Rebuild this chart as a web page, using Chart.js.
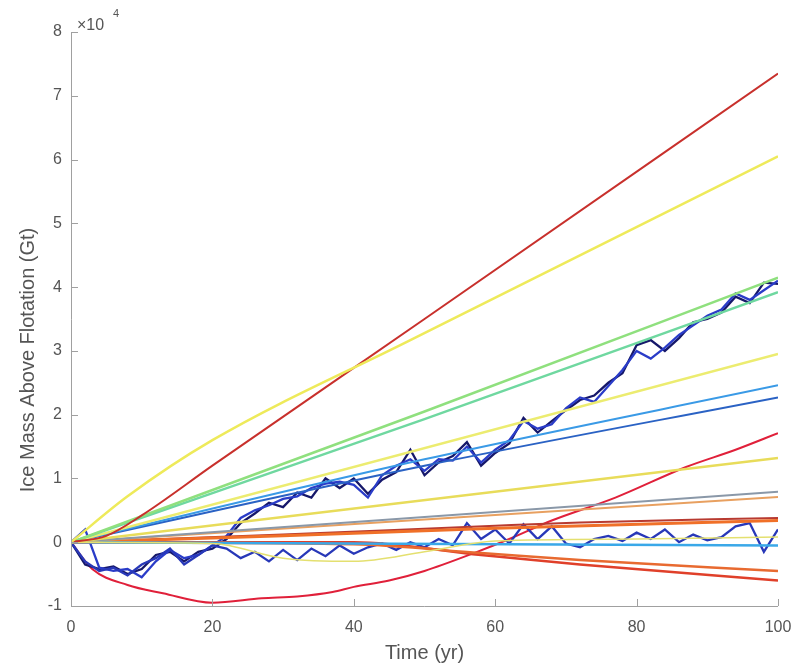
<!DOCTYPE html>
<html>
<head>
<meta charset="utf-8">
<script src="https://cdn.jsdelivr.net/npm/chart.js@4"></script>
<style>
  html, body { margin:0; padding:0; background:#fff; }
  #wrap { width:799px; height:667px; }
</style>
</head>
<body>
<div id="wrap"><canvas id="c" width="799" height="667"></canvas></div>
<script>
// ice mass above flotation, values in units of 1e4 Gt

// x ticks / y ticks
const xTicks = [0, 20, 40, 60, 80, 100];
const yTicks = [-1, 0, 1, 2, 3, 4, 5, 6, 7, 8];

// noisy model runs, every 2 years
const noisyYears = [0,2,4,6,8,10,12,14,16,18,20,22,24,26,28,30,32,34,36,38,40,42,44,46,48,50,
  52,54,56,58,60,62,64,66,68,70,72,74,76,78,80,82,84,86,88,90,92,94,96,98,100];
const runA = [0,-0.35,-0.42,-0.38,-0.5,-0.42,-0.2,-0.15,-0.3,-0.15,-0.1,0.05,0.3,0.45,0.62,0.55,0.78,0.7,1.0,0.85,1.0,
  0.76,0.98,1.1,1.45,1.05,1.25,1.35,1.57,1.2,1.4,1.55,1.95,1.72,1.9,2.07,2.23,2.3,2.5,2.65,3.09,3.17,3.0,3.2,3.45,3.5,3.6,3.85,3.75,4.07,4.05];
const runA2 = [0,0.2,-0.4,-0.45,-0.42,-0.55,-0.3,-0.12,-0.25,-0.2,-0.05,0.1,0.38,0.5,0.58,0.68,0.72,0.85,0.92,0.95,0.9,
  0.7,1.05,1.2,1.3,1.12,1.3,1.28,1.5,1.25,1.45,1.6,1.9,1.78,1.85,2.1,2.27,2.2,2.45,2.7,3.0,2.88,3.05,3.25,3.4,3.55,3.65,3.9,3.8,3.95,4.1];
const runB = [0,-0.3,-0.45,-0.4,-0.52,-0.35,-0.25,-0.1,-0.35,-0.2,-0.05,-0.1,-0.25,-0.15,-0.3,-0.12,-0.28,-0.1,-0.22,-0.05,-0.18,
  -0.08,-0.02,-0.12,0.0,-0.08,0.05,-0.05,0.3,0.05,0.2,-0.02,0.28,0.05,0.25,-0.02,-0.08,0.05,0.1,0.02,0.15,0.05,0.2,0.0,0.12,0.03,0.08,0.25,0.3,-0.15,0.2];

// smooth runs: knot years and values
const redTopX = [0, 5, 10, 20, 50, 100];
const redTopY = [0, 0.1, 0.42, 1.2, 3.5, 7.35];
const yellowTopX = [0, 8, 20, 48, 100];
const yellowTopY = [0, 0.72, 1.6, 3.17, 6.05];
const greenAX = [0, 50, 100];
const greenAY = [0, 2.05, 4.15];
const greenBX = [0, 50, 100];
const greenBY = [0, 1.93, 3.92];
const yellowMidX = [0, 100];
const yellowMidY = [0, 2.95];
const blueAX = [0, 50, 100];
const blueAY = [0, 1.3, 2.46];
const blueBX = [0, 50, 100];
const blueBY = [0, 1.2, 2.27];
const redCurveX = [0, 3, 8, 13, 20, 27, 32, 37, 40, 45, 50, 57, 62, 68, 77, 87, 94, 100];
const redCurveY = [0, -0.42, -0.67, -0.8, -0.95, -0.88, -0.85, -0.78, -0.7, -0.6, -0.45, -0.17, 0.05, 0.34, 0.7, 1.18, 1.45, 1.71];
const yellowLowX = [0, 100];
const yellowLowY = [0, 1.32];
const greyX = [0, 100];
const greyY = [0, 0.79];
const tanX = [0, 100];
const tanY = [0, 0.71];
const darkRedX = [0, 30, 60, 72, 100];
const darkRedY = [0, 0.12, 0.26, 0.31, 0.38];
const orangeUpX = [0, 30, 60, 100];
const orangeUpY = [0, 0.1, 0.22, 0.34];
const cyanX = [0, 100];
const cyanY = [0, -0.05];
const yellowDipX = [0, 20, 30, 40, 50, 60, 80, 100];
const yellowDipY = [0, -0.02, -0.25, -0.3, -0.15, 0.02, 0.05, 0.08];
const orangeDownAX = [0, 40, 58, 72, 100];
const orangeDownAY = [0, -0.03, -0.17, -0.28, -0.45];
const orangeDownBX = [0, 40, 58, 72, 100];
const orangeDownBY = [0, 0.0, -0.2, -0.35, -0.6];

const FONT = '"Liberation Sans", Arial, sans-serif';

function pts(xs, ys){ return xs.map((x,i) => ({x, y: ys[i]})); }

function smooth(xs, ys, color, w){
  return { data: pts(xs, ys), borderColor: color, borderWidth: w || 2, pointRadius: 0,
           cubicInterpolationMode: 'monotone', fill: false };
}
function noisy(xs, ys, color, w){
  return { data: pts(xs, ys), borderColor: color, borderWidth: w || 2, pointRadius: 0,
           tension: 0, fill: false };
}

const datasets = [
  smooth(yellowTopX, yellowTopY, '#eeea5a', 2.5),
  smooth(redTopX, redTopY, '#c8302c'),
  smooth(greenAX, greenAY, '#8fe07e', 2.5),
  smooth(greenBX, greenBY, '#6fd8a0', 2.5),
  smooth(yellowMidX, yellowMidY, '#ecec70', 2.5),
  smooth(yellowLowX, yellowLowY, '#e8dc5a', 2.5),
  smooth(yellowDipX, yellowDipY, '#e4e070', 1.5),
  smooth(blueAX, blueAY, '#3a9ae6'),
  smooth(blueBX, blueBY, '#2a62c4'),
  smooth(greyX, greyY, '#8a98a8'),
  smooth(tanX, tanY, '#e8a060'),
  smooth(cyanX, cyanY, '#3aa8e8', 2.5),
  smooth(orangeUpX, orangeUpY, '#f07028', 3),
  smooth(darkRedX, darkRedY, '#b83a30'),
  smooth(orangeDownAX, orangeDownAY, '#e86a30', 2.5),
  smooth(orangeDownBX, orangeDownBY, '#e0402a', 2.5),
  noisy(noisyYears, runB, '#2838b8', 2.3),
  noisy(noisyYears, runA2, '#2a3cc8', 2.3),
  noisy(noisyYears, runA, '#16186a', 2.3),
  smooth(redCurveX, redCurveY, '#e0203a')
];

// inward MATLAB-like tick marks, exponent label, y label
const axisDecor = {
  id: 'axisDecor',
  afterDraw(chart){
    const ctx = chart.ctx, xs = chart.scales.x, ys = chart.scales.y;
    const a = chart.chartArea;
    ctx.save();
    ctx.strokeStyle = '#a0a0a0';
    ctx.lineWidth = 1;
    ctx.beginPath();
    ctx.moveTo(a.left + 0.5, a.top); ctx.lineTo(a.left + 0.5, a.bottom + 0.5);
    ctx.lineTo(a.right, a.bottom + 0.5);
    xTicks.forEach(t => { const p = Math.round(xs.getPixelForValue(t)) + 0.5; ctx.moveTo(p, a.bottom); ctx.lineTo(p, a.bottom - 7); });
    yTicks.forEach(t => { const p = Math.round(ys.getPixelForValue(t)) + 0.5; ctx.moveTo(a.left, p); ctx.lineTo(a.left + 7, p); });
    ctx.stroke();
    ctx.fillStyle = '#555';
    ctx.textBaseline = 'alphabetic';
    ctx.font = '16px ' + FONT;
    ctx.fillText('\u00d710', a.left + 6, a.top - 2);
    ctx.font = '11px ' + FONT;
    ctx.fillText('4', a.left + 42, a.top - 15);
    // y axis label
    ctx.translate(28, 360);
    ctx.rotate(-Math.PI / 2);
    ctx.textAlign = 'center';
    ctx.textBaseline = 'middle';
    ctx.font = '20px ' + FONT;
    ctx.fillText('Ice Mass Above Flotation (Gt)', 0, 0);
    ctx.restore();
  }
};

new Chart(document.getElementById('c'), {
  type: 'line',
  data: { datasets },
  options: {
    responsive: false,
    animation: false,
    layout: { padding: { top: 32, right: 21, left: 0, bottom: 0 } },
    plugins: { legend: { display: false }, tooltip: { enabled: false } },
    scales: {
      x: {
        type: 'linear', min: 0, max: 100,
        afterBuildTicks: s => { s.ticks = xTicks.map(v => ({ value: v })); },
        afterFit: s => { s.height = 61; s.paddingLeft = 0; s.paddingRight = 0; },
        grid: { display: false, drawTicks: false },
        border: { display: false },
        ticks: { color: '#555', padding: 12, maxRotation: 0, font: { size: 16, family: FONT } },
        title: { display: true, text: 'Time (yr)', color: '#555', padding: { top: 0, bottom: 2 }, font: { size: 20, family: FONT } }
      },
      y: {
        type: 'linear', min: -1, max: 8,
        afterBuildTicks: s => { s.ticks = yTicks.map(v => ({ value: v })); },
        afterFit: s => { s.width = 71; s.paddingTop = 0; s.paddingBottom = 0; },
        grid: { display: false, drawTicks: false },
        border: { display: false },
        ticks: { color: '#555', padding: 9, font: { size: 16, family: FONT } },
        title: { display: false }
      }
    }
  },
  plugins: [axisDecor]
});
</script>
</body>
</html>
